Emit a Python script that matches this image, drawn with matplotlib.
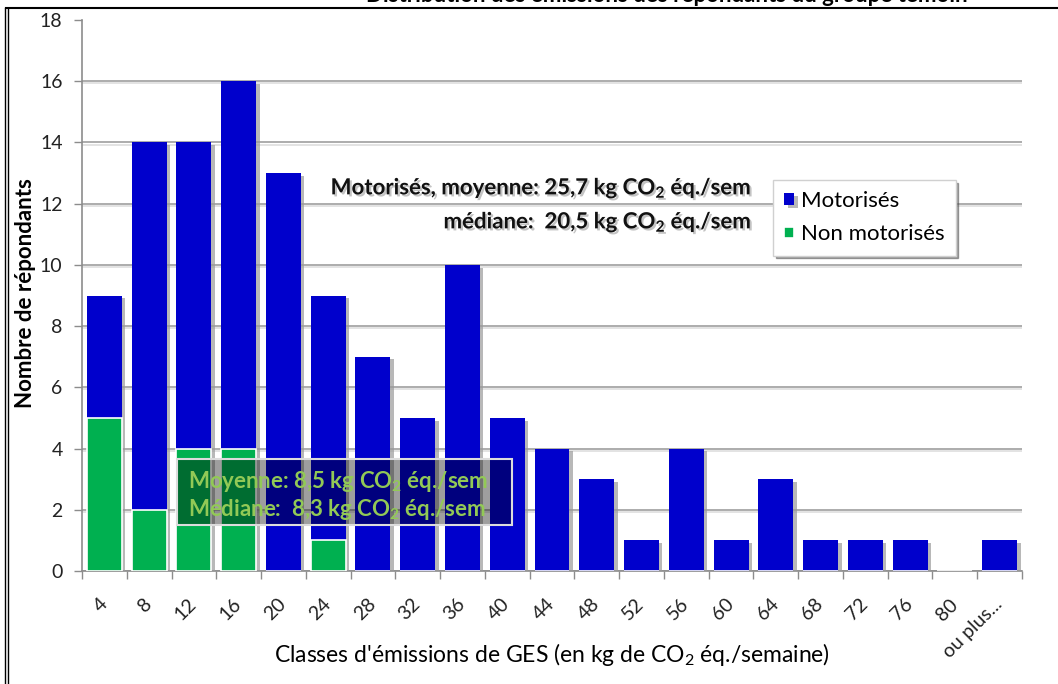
import matplotlib
matplotlib.use('Agg')
import matplotlib.pyplot as plt
import matplotlib.patheffects as pe
from matplotlib.patches import Rectangle
from matplotlib.lines import Line2D
import numpy as np

categories = ['4', '8', '12', '16', '20', '24', '28', '32', '36', '40', '44', '48',
              '52', '56', '60', '64', '68', '72', '76', '80', 'ou plus...']
motorises = [9, 14, 14, 16, 13, 9, 7, 5, 10, 5, 4, 3, 1, 4, 1, 3, 1, 1, 1, 0, 1]
non_motorises = [5, 2, 4, 4, 0, 1, 0, 0, 0, 0, 0, 0, 0, 0, 0, 0, 0, 0, 0, 0, 0]
series_names = ['Motorisés', 'Non motorisés']
title = "Distribution des émissions des répondants du groupe témoin"
ylabel = "Nombre de répondants"
xlabel = "Classes d'émissions de GES (en kg de CO$_2$ éq./semaine)"
note_mot = ["Motorisés, moyenne: 25,7 kg CO$_\\mathbf{2}$ éq./sem",
            "médiane:  20,5 kg CO$_\\mathbf{2}$ éq./sem"]
note_non = ["Moyenne: 8,5 kg CO$_\\mathbf{2}$ éq./sem",
            "Médiane:  8,3 kg CO$_\\mathbf{2}$ éq./sem"]

plt.rcParams['font.family'] = ['Lato', 'DejaVu Sans']
plt.rcParams['mathtext.fontset'] = 'custom'
plt.rcParams['mathtext.rm'] = 'Lato'
plt.rcParams['mathtext.bf'] = 'Lato:bold'
plt.rcParams['mathtext.it'] = 'Lato:italic'

W, H = 1058, 684
fig = plt.figure(figsize=(W / 100, H / 100), dpi=100)
ax = fig.add_axes([82 / W, 1 - 571 / H, 940 / W, 551 / H])

x = np.arange(len(categories))
shadow = [pe.SimplePatchShadow(offset=(2.5, -2), shadow_rgbFace='#9a9a9a', alpha=0.7), pe.Normal()]
b1 = ax.bar(x, motorises, width=0.78, color='#0000CC', zorder=3, label=series_names[0])
for p in b1:
    p.set_path_effects(shadow)
b2 = ax.bar(x, non_motorises, width=0.78, color='#00B050', edgecolor='white',
            linewidth=1.2, zorder=4, label=series_names[1])

ax.set_xlim(-0.5, len(categories) - 0.5)
ax.set_ylim(0, 18)
ax.set_yticks(range(0, 19, 2))
ax.yaxis.grid(True, color='#A6A6A6', lw=1.3, zorder=1)
ax.get_ygridlines()[-1].set_visible(False)
for gl in ax.get_ygridlines():
    gl.set_path_effects([pe.SimpleLineShadow(offset=(1, -1.5), shadow_color='#cccccc', alpha=0.6), pe.Normal()])
ax.set_axisbelow(True)
for s in ['top', 'right']:
    ax.spines[s].set_visible(False)
for s in ['left', 'bottom']:
    ax.spines[s].set_color('#8c8c8c')
    ax.spines[s].set_linewidth(1.2)

ax.set_xticks(x)
ax.set_xticklabels(categories, rotation=45, ha='right', va='center',
                   rotation_mode='anchor', fontsize=14, color='#222222')
ax.tick_params(axis='x', length=0, pad=22)
ax.set_xticks(np.arange(-0.5, len(categories), 1), minor=True)
ax.tick_params(axis='x', which='minor', length=6, color='#8c8c8c', width=1)
ax.tick_params(axis='y', length=6, color='#8c8c8c', width=1, labelsize=14,
               labelcolor='#222222', pad=8)

fig.text(26 / W, 1 - 293 / H, ylabel, rotation=90, ha='center', va='center',
         fontsize=16, fontweight='bold')
fig.text(552 / W, 1 - 655 / H, xlabel, ha='center', va='center', fontsize=16.5)

leg = ax.legend(loc='upper left', bbox_to_anchor=(773 / W, 1 - 180 / H),
                bbox_transform=fig.transFigure, fontsize=16, frameon=True,
                fancybox=False, shadow=True, edgecolor='#d0d0d0',
                handlelength=0.45, handleheight=0.45, handletextpad=0.3,
                borderpad=0.5, labelspacing=0.6, borderaxespad=0)
leg.get_frame().set_linewidth(1)

txt_shadow = [pe.withSimplePatchShadow(offset=(1.5, -1.5), shadow_rgbFace='#888888', alpha=0.5)]
fig.text(752 / W, 1 - 188 / H, note_mot[0], ha='right', va='center', fontsize=16,
         fontweight='bold', color='#111111', path_effects=txt_shadow)
fig.text(752 / W, 1 - 222 / H, note_mot[1], ha='right', va='center', fontsize=16,
         fontweight='bold', color='#111111', path_effects=txt_shadow)

box = Rectangle((177 / W, 1 - 525 / H), 335 / W, 66 / H, transform=fig.transFigure,
                facecolor=(0, 0, 0, 0.38), edgecolor='#dcdcdc', lw=1.5, zorder=10)
fig.add_artist(box)
fig.text(188 / W, 1 - 482 / H, note_non[0], ha='left', va='center', fontsize=16,
         fontweight='bold', color='#92C956', zorder=11)
fig.text(188 / W, 1 - 510 / H, note_non[1], ha='left', va='center', fontsize=16,
         fontweight='bold', color='#92C956', zorder=11)

fig.text(667 / W, 1 - 1.5 / H, title, ha='center', va='baseline', fontsize=16,
         fontweight='bold')

fig.add_artist(Line2D([6 / W, 1], [1 - 8 / H, 1 - 8 / H], transform=fig.transFigure,
                      color='black', lw=1.5))
fig.add_artist(Line2D([5 / W, 5 / W], [0, 1 - 8 / H], transform=fig.transFigure,
                      color='black', lw=1))
fig.add_artist(Line2D([8 / W, 8 / W], [0, 1 - 8 / H], transform=fig.transFigure,
                      color='black', lw=1))

fig.savefig('out.png', dpi=100)
